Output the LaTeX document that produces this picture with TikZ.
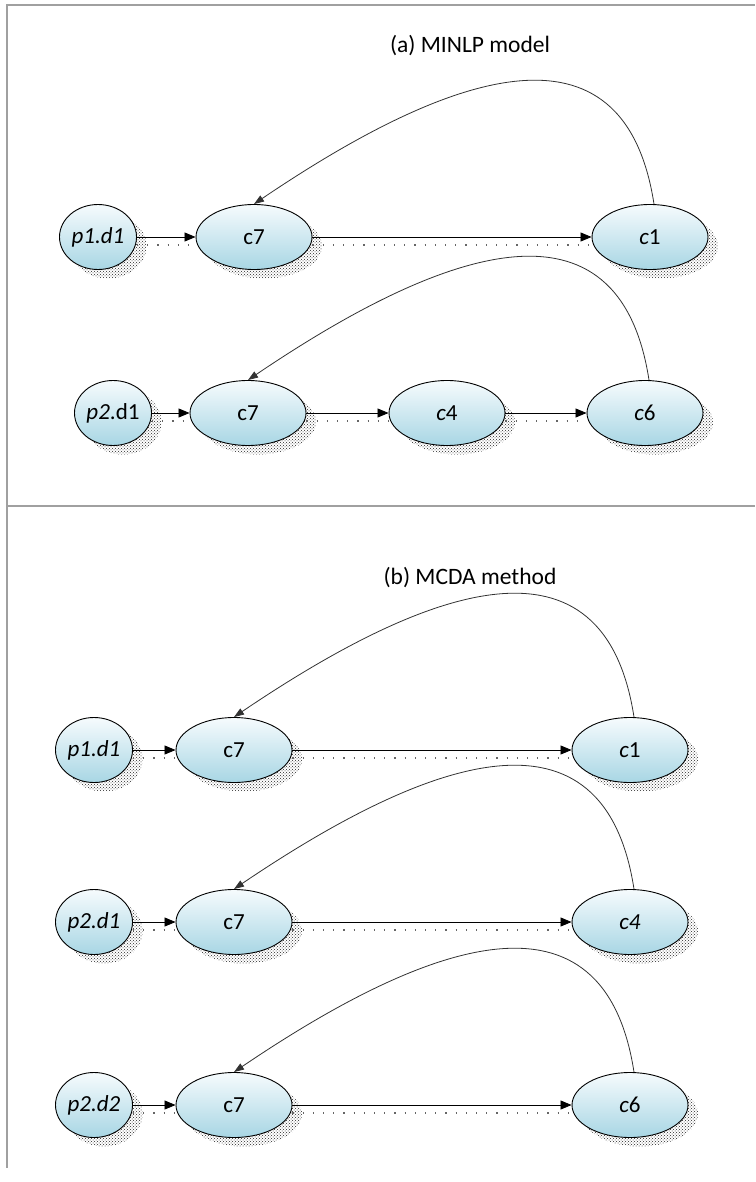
\documentclass[tikz,border=0pt]{standalone}
\usepackage{fontspec}
\setmainfont{Carlito}
\usepackage{tikz}
\usetikzlibrary{arrows.meta,shapes.geometric,shadows,patterns}
\definecolor{cellTop}{RGB}{246,251,253}
\definecolor{cellBottom}{RGB}{168,214,228}
\definecolor{frameGray}{RGB}{160,160,160}
\definecolor{loopGray}{RGB}{50,50,50}

\begin{document}
\begin{tikzpicture}[x=1pt,y=-1pt,
  cell/.style={ellipse, draw=black, line width=0.9pt, top color=cellTop, bottom color=cellBottom,
    inner sep=0pt, minimum height=65pt, font=\fontsize{23}{27}\selectfont,
    drop shadow={shadow xshift=10pt, shadow yshift=-9pt, opacity=1, fill=none,
      pattern=crosshatch dots, pattern color=black!85}},
  src/.style={cell, minimum width=77pt},
  stage/.style={cell, minimum width=116pt},
  flow/.style={-{Triangle[length=11pt,width=9pt]}, line width=0.8pt},
  flowShade/.style={black!60, line width=1.2pt, dash pattern=on 1.2pt off 9pt},
  loop/.style={-{Triangle[length=10pt,width=7pt]}, loopGray, line width=0.8pt},
  title/.style={font=\fontsize{23.5}{28}\selectfont}]
\useasboundingbox (0,0) rectangle (755,1182);
% frame
\draw[frameGray, line width=1.5pt] (755,5) -- (7,5) -- (7,1168);
\draw[frameGray, line width=2pt] (7,506) -- (755,506);

% (a) MINLP model
\node[title] (titleA) at (470,46) {(a) MINLP model};
\node[src] (a1p) at (98,237) {\textit{p1.d1}};
\node[stage] (a1s) at (254,237) {c7};
\node[stage] (a1e) at (650,237) {\textit{c}1};
\node[src] (a2p) at (113,413) {\textit{p2}.d1};
\node[stage] (a2s) at (248,413) {c7};
\node[stage] (a2m) at (447,413) {\textit{c}4};
\node[stage] (a2e) at (645,413) {\textit{c}6};

% (b) MCDA method
\node[title] (titleB) at (470,578) {(b) MCDA method};
\node[src] (b1p) at (94,750) {\textit{p1.d1}};
\node[stage] (b1s) at (234,750) {c7};
\node[stage] (b1e) at (630,750) {\textit{c}1};
\node[src] (b2p) at (94,922) {\textit{p2.d1}};
\node[stage] (b2s) at (234,922) {c7};
\node[stage] (b2e) at (630,922) {\textit{c4}};
\node[src] (b3p) at (94,1105) {\textit{p2.d2}};
\node[stage] (b3s) at (234,1105) {c7};
\node[stage] (b3e) at (630,1105) {\textit{c}6};

% connector shadows
\foreach \u/\v in {a1p/a1s,a1s/a1e,a2p/a2s,a2s/a2m,a2m/a2e,b1p/b1s,b1s/b1e,b2p/b2s,b2s/b2e,b3p/b3s,b3s/b3e}
  \draw[flowShade] ([yshift=-8pt]\u.east) -- ([yshift=-8pt]\v.west);

% connectors
\foreach \u/\v in {a1p/a1s,a1s/a1e,a2p/a2s,a2s/a2m,a2m/a2e,b1p/b1s,b1s/b1e,b2p/b2s,b2s/b2e,b3p/b3s,b3s/b3e}
  \draw[flow] (\u) -- (\v);

% feedback arcs
\foreach \u/\v in {a1e/a1s,a2e/a2s,b1e/b1s,b2e/b2s,b3e/b3s}
  \draw[loop] ([xshift=4pt]\u.north) .. controls +(-30,-194) and +(195,-132) .. (\v.north);
\end{tikzpicture}
\end{document}
